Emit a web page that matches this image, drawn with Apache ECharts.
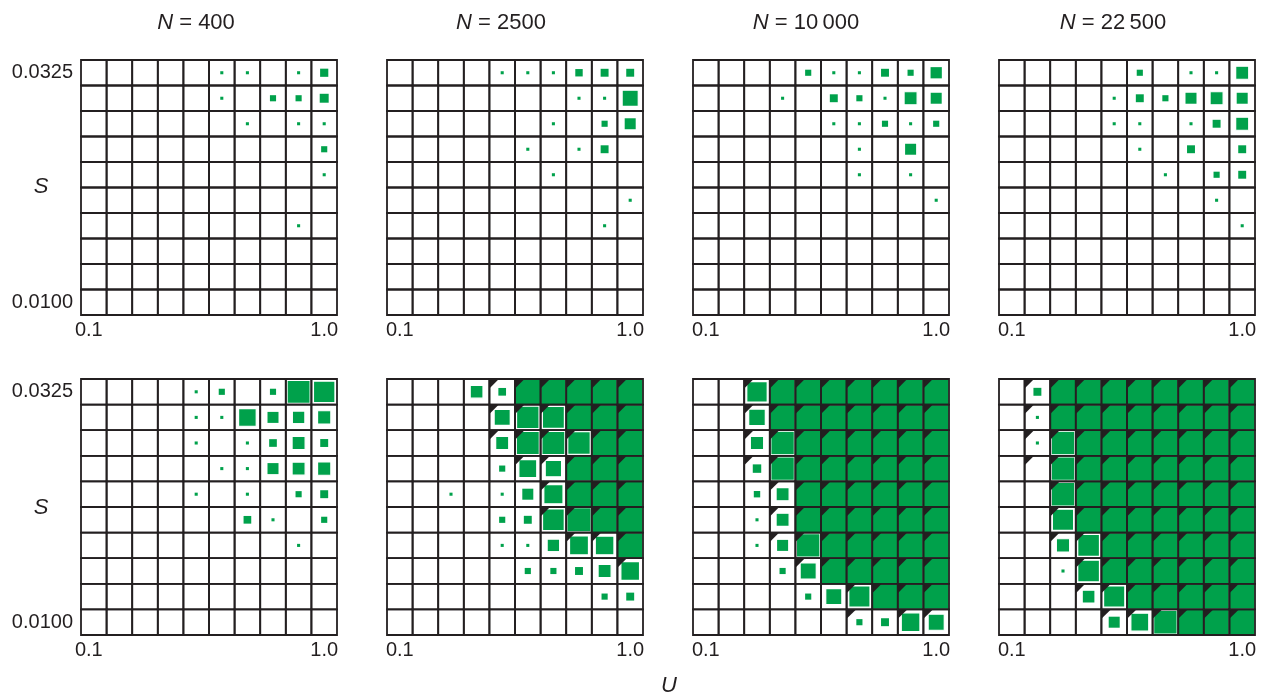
<!DOCTYPE html>
<html>
<head>
<meta charset="utf-8">
<script src="https://cdn.jsdelivr.net/npm/echarts@6/dist/echarts.min.js"></script>
<style>
  html, body { margin: 0; padding: 0; background: #ffffff; }
  #chart { width: 1268px; height: 697px; }
</style>
</head>
<body>
<div id="chart"></div>
<script>
// Axis categories
const U_LABELS = ['0.1', '0.2', '0.3', '0.4', '0.5', '0.6', '0.7', '0.8', '0.9', '1.0'];
const S_LABELS = ['0.0100', '0.0125', '0.0150', '0.0175', '0.0200', '0.0225', '0.0250', '0.0275', '0.0300', '0.0325'];
const N_LABELS = ['400', '2500', '10\u2009000', '22\u2009500'];

// Square side (fraction of the cell), rows listed from S = 0.0325 down to S = 0.0100,
// columns from U = 0.1 to U = 1.0.
const upper400 = [
  [0, 0, 0, 0, 0, .12, .12, 0, .12, .32],
  [0, 0, 0, 0, 0, .12, 0, .24, .24, .35],
  [0, 0, 0, 0, 0, 0, .12, 0, .12, .12],
  [0, 0, 0, 0, 0, 0, 0, 0, 0, .24],
  [0, 0, 0, 0, 0, 0, 0, 0, 0, .12],
  [0, 0, 0, 0, 0, 0, 0, 0, 0, 0],
  [0, 0, 0, 0, 0, 0, 0, 0, .12, 0],
  [0, 0, 0, 0, 0, 0, 0, 0, 0, 0],
  [0, 0, 0, 0, 0, 0, 0, 0, 0, 0],
  [0, 0, 0, 0, 0, 0, 0, 0, 0, 0]
];
const upper2500 = [
  [0, 0, 0, 0, .12, .12, .12, .29, .31, .31],
  [0, 0, 0, 0, 0, 0, 0, .12, .12, .63],
  [0, 0, 0, 0, 0, 0, .12, 0, .24, .43],
  [0, 0, 0, 0, 0, .12, 0, .12, .31, 0],
  [0, 0, 0, 0, 0, 0, .12, 0, 0, 0],
  [0, 0, 0, 0, 0, 0, 0, 0, 0, .12],
  [0, 0, 0, 0, 0, 0, 0, 0, .12, 0],
  [0, 0, 0, 0, 0, 0, 0, 0, 0, 0],
  [0, 0, 0, 0, 0, 0, 0, 0, 0, 0],
  [0, 0, 0, 0, 0, 0, 0, 0, 0, 0]
];
const upper10000 = [
  [0, 0, 0, 0, .24, .12, .12, .31, .24, .44],
  [0, 0, 0, .12, 0, .31, .24, .12, .51, .43],
  [0, 0, 0, 0, 0, .12, .12, .24, .12, .24],
  [0, 0, 0, 0, 0, 0, .12, 0, .43, 0],
  [0, 0, 0, 0, 0, 0, .12, 0, .12, 0],
  [0, 0, 0, 0, 0, 0, 0, 0, 0, .12],
  [0, 0, 0, 0, 0, 0, 0, 0, 0, 0],
  [0, 0, 0, 0, 0, 0, 0, 0, 0, 0],
  [0, 0, 0, 0, 0, 0, 0, 0, 0, 0],
  [0, 0, 0, 0, 0, 0, 0, 0, 0, 0]
];
const upper22500 = [
  [0, 0, 0, 0, 0, .24, 0, .12, .12, .51],
  [0, 0, 0, 0, .12, .31, .24, .43, .51, .43],
  [0, 0, 0, 0, .12, .12, 0, .12, .31, .51],
  [0, 0, 0, 0, 0, .12, 0, .31, 0, .31],
  [0, 0, 0, 0, 0, 0, .12, 0, .24, .31],
  [0, 0, 0, 0, 0, 0, 0, 0, .12, 0],
  [0, 0, 0, 0, 0, 0, 0, 0, 0, .12],
  [0, 0, 0, 0, 0, 0, 0, 0, 0, 0],
  [0, 0, 0, 0, 0, 0, 0, 0, 0, 0],
  [0, 0, 0, 0, 0, 0, 0, 0, 0, 0]
];
const lower400 = [
  [0, 0, 0, 0, .12, .24, 0, .24, .9, .84],
  [0, 0, 0, 0, .12, .12, .69, .43, .44, .52],
  [0, 0, 0, 0, .12, 0, .12, .3, .51, .31],
  [0, 0, 0, 0, 0, .12, .12, .43, .51, .52],
  [0, 0, 0, 0, .12, 0, .12, 0, .24, .31],
  [0, 0, 0, 0, 0, 0, .3, .12, 0, .24],
  [0, 0, 0, 0, 0, 0, 0, 0, .12, 0],
  [0, 0, 0, 0, 0, 0, 0, 0, 0, 0],
  [0, 0, 0, 0, 0, 0, 0, 0, 0, 0],
  [0, 0, 0, 0, 0, 0, 0, 0, 0, 0]
];
const lower2500 = [
  [0, 0, 0, .5, .3, 1, 1, 1, 1, 1],
  [0, 0, 0, 0, .63, .88, .86, 1, 1, 1],
  [0, 0, 0, 0, .51, .9, .9, .88, 1, 1],
  [0, 0, 0, 0, .24, .7, .64, 1, 1, 1],
  [0, 0, .12, 0, .12, .43, .75, 1, 1, 1],
  [0, 0, 0, 0, .24, .31, .85, .95, 1, 1],
  [0, 0, 0, 0, .12, .12, .44, .74, .73, 1],
  [0, 0, 0, 0, 0, .24, .24, .31, .51, .73],
  [0, 0, 0, 0, 0, 0, 0, 0, .24, .31],
  [0, 0, 0, 0, 0, 0, 0, 0, 0, 0]
];
const lower10000 = [
  [0, 0, .8, 1, 1, 1, 1, 1, 1, 1],
  [0, 0, .65, 1, 1, 1, 1, 1, 1, 1],
  [0, 0, .52, .92, 1, 1, 1, 1, 1, 1],
  [0, 0, .33, .92, 1, 1, 1, 1, 1, 1],
  [0, 0, .25, .51, 1, 1, 1, 1, 1, 1],
  [0, 0, .12, .51, 1, 1, 1, 1, 1, 1],
  [0, 0, .12, .43, .92, 1, 1, 1, 1, 1],
  [0, 0, 0, .24, .63, 1, 1, 1, 1, 1],
  [0, 0, 0, 0, .24, .63, .83, 1, 1, 1],
  [0, 0, 0, 0, 0, 0, .24, .31, .73, .63]
];
const lower22500 = [
  [0, .31, 1, 1, 1, 1, 1, 1, 1, 1],
  [0, .12, 1, 1, 1, 1, 1, 1, 1, 1],
  [0, .12, .92, 1, 1, 1, 1, 1, 1, 1],
  [0, 0, .92, 1, 1, 1, 1, 1, 1, 1],
  [0, 0, .92, 1, 1, 1, 1, 1, 1, 1],
  [0, 0, .83, 1, 1, 1, 1, 1, 1, 1],
  [0, 0, .52, .85, 1, 1, 1, 1, 1, 1],
  [0, 0, .12, .85, 1, 1, 1, 1, 1, 1],
  [0, 0, 0, .5, .83, 1, 1, 1, 1, 1],
  [0, 0, 0, 0, .43, .7, .92, 1, 1, 1]
];

// Corner flags (1 = dark corner triangle), same layout as above.
const lowerFlag2500 = [
  [0, 0, 0, 0, 1, 1, 1, 1, 1, 1],
  [0, 0, 0, 0, 1, 1, 1, 1, 1, 1],
  [0, 0, 0, 0, 1, 1, 1, 1, 1, 1],
  [0, 0, 0, 0, 0, 1, 1, 1, 1, 1],
  [0, 0, 0, 0, 0, 0, 1, 1, 1, 1],
  [0, 0, 0, 0, 0, 0, 1, 1, 1, 1],
  [0, 0, 0, 0, 0, 0, 0, 1, 1, 1],
  [0, 0, 0, 0, 0, 0, 0, 0, 0, 1],
  [0, 0, 0, 0, 0, 0, 0, 0, 0, 0],
  [0, 0, 0, 0, 0, 0, 0, 0, 0, 0]
];
const lowerFlag10000 = [
  [0, 0, 1, 1, 1, 1, 1, 1, 1, 1],
  [0, 0, 1, 1, 1, 1, 1, 1, 1, 1],
  [0, 0, 1, 1, 1, 1, 1, 1, 1, 1],
  [0, 0, 1, 1, 1, 1, 1, 1, 1, 1],
  [0, 0, 0, 1, 1, 1, 1, 1, 1, 1],
  [0, 0, 0, 1, 1, 1, 1, 1, 1, 1],
  [0, 0, 0, 1, 1, 1, 1, 1, 1, 1],
  [0, 0, 0, 0, 1, 1, 1, 1, 1, 1],
  [0, 0, 0, 0, 0, 0, 1, 1, 1, 1],
  [0, 0, 0, 0, 0, 0, 1, 0, 1, 1]
];
const lowerFlag22500 = [
  [0, 1, 1, 1, 1, 1, 1, 1, 1, 1],
  [0, 1, 1, 1, 1, 1, 1, 1, 1, 1],
  [0, 1, 1, 1, 1, 1, 1, 1, 1, 1],
  [0, 1, 1, 1, 1, 1, 1, 1, 1, 1],
  [0, 0, 1, 1, 1, 1, 1, 1, 1, 1],
  [0, 0, 1, 1, 1, 1, 1, 1, 1, 1],
  [0, 0, 1, 1, 1, 1, 1, 1, 1, 1],
  [0, 0, 0, 1, 1, 1, 1, 1, 1, 1],
  [0, 0, 0, 1, 1, 1, 1, 1, 1, 1],
  [0, 0, 0, 0, 1, 1, 1, 1, 1, 1]
];

const GREEN = '#00a14b';
const INK = '#231f20';
const FONT = '"Liberation Sans", Arial, Helvetica, sans-serif';

const panels = [
  { sizes: upper400, flags: null }, { sizes: upper2500, flags: null },
  { sizes: upper10000, flags: null }, { sizes: upper22500, flags: null },
  { sizes: lower400, flags: null }, { sizes: lower2500, flags: lowerFlag2500 },
  { sizes: lower10000, flags: lowerFlag10000 }, { sizes: lower22500, flags: lowerFlag22500 }
];

const PANEL_LEFT = [81, 387, 693, 999];
const PANEL_TOP = [60, 379];
const PANEL_W = 256, PANEL_H = 255;

const grids = [], xAxes = [], yAxes = [], series = [];

panels.forEach((p, g) => {
  const row = Math.floor(g / 4), col = g % 4;
  grids.push({ left: PANEL_LEFT[col], top: PANEL_TOP[row], width: PANEL_W, height: PANEL_H + (row ? 1 : 0) });
  xAxes.push({
    type: 'category', gridIndex: g, data: U_LABELS, boundaryGap: true,
    axisLine: { show: false }, axisTick: { show: false }, splitLine: { show: false },
    axisLabel: {
      interval: (i) => i === 0 || i === U_LABELS.length - 1,
      margin: 5, fontSize: 20, fontFamily: FONT, color: INK,
      formatter: (v, i) => (col === 0 && i === 0) ? '{l|' + v + '}' : v,
      rich: { l: { fontSize: 20, fontFamily: FONT, color: INK, padding: [0, 10, 0, 0] } }
    }
  });
  yAxes.push({
    type: 'category', gridIndex: g, data: S_LABELS, boundaryGap: true,
    axisLine: { show: false }, axisTick: { show: false }, splitLine: { show: false },
    axisLabel: {
      show: col === 0,
      interval: (i) => i === 0 || i === S_LABELS.length - 1,
      margin: 8, fontSize: 20, fontFamily: FONT, color: INK
    }
  });

  // marks: [U index, S index, side fraction, corner flag]
  const marks = [];
  p.sizes.forEach((line, r) => {
    line.forEach((v, c) => {
      const f = p.flags ? p.flags[r][c] : 0;
      if (v > 0 || f) marks.push([c, S_LABELS.length - 1 - r, v, f]);
    });
  });
  series.push({
    type: 'custom', xAxisIndex: g, yAxisIndex: g, z: 2, silent: true,
    data: marks,
    renderItem: (params, api) => {
      const ctr = api.coord([api.value(0), api.value(1)]);
      const sz = api.size([1, 1]);
      const w = sz[0], h = sz[1];
      const v = api.value(2), f = api.value(3);
      const children = [];
      if (v > 0) {
        const sw = w * v, sh = h * v;
        children.push({
          type: 'rect',
          shape: { x: ctr[0] - sw / 2, y: ctr[1] - sh / 2, width: sw, height: sh },
          style: { fill: GREEN, stroke: v >= 0.5 ? '#ffffff' : null, lineWidth: 1.2 }
        });
      }
      if (f) {
        const x0 = ctr[0] - w / 2, y0 = ctr[1] - h / 2, L = w * 0.37;
        children.push({
          type: 'polygon',
          shape: { points: [[x0, y0], [x0 + L, y0], [x0, y0 + L]] },
          style: { fill: INK }
        });
      }
      return { type: 'group', children };
    }
  });

  // cell outlines
  const cells = [];
  U_LABELS.forEach((u, c) => S_LABELS.forEach((s, k) => cells.push([c, k])));
  series.push({
    type: 'custom', xAxisIndex: g, yAxisIndex: g, z: 3, silent: true,
    data: cells,
    renderItem: (params, api) => {
      const ctr = api.coord([api.value(0), api.value(1)]);
      const sz = api.size([1, 1]);
      return {
        type: 'rect',
        shape: { x: ctr[0] - sz[0] / 2, y: ctr[1] - sz[1] / 2, width: sz[0], height: sz[1] },
        style: { fill: null, stroke: INK, lineWidth: 1.8 }
      };
    }
  });
});

const TITLE_X = [196, 501, 806, 1113];
const graphics = N_LABELS.map((n, i) => ({
  type: 'text', x: TITLE_X[i], y: 23, z: 10,
  style: {
    text: '{i|N} = ' + n,
    fontSize: 22, fontFamily: FONT, fill: INK,
    align: 'center', verticalAlign: 'middle',
    rich: { i: { fontSize: 22, fontFamily: FONT, fontStyle: 'italic', fill: INK } }
  }
}));
[[41, 187, 'S'], [41, 508, 'S'], [669, 686, 'U']].forEach(([x, y, t]) => {
  graphics.push({
    type: 'text', x, y, z: 10,
    style: {
      text: t, fontSize: 22, fontFamily: FONT, fontStyle: 'italic', fill: INK,
      align: 'center', verticalAlign: 'middle'
    }
  });
});

const chart = echarts.init(document.getElementById('chart'), null, { renderer: 'canvas' });
chart.setOption({
  animation: false,
  backgroundColor: '#ffffff',
  grid: grids,
  xAxis: xAxes,
  yAxis: yAxes,
  series,
  graphic: graphics
});
</script>
</body>
</html>
